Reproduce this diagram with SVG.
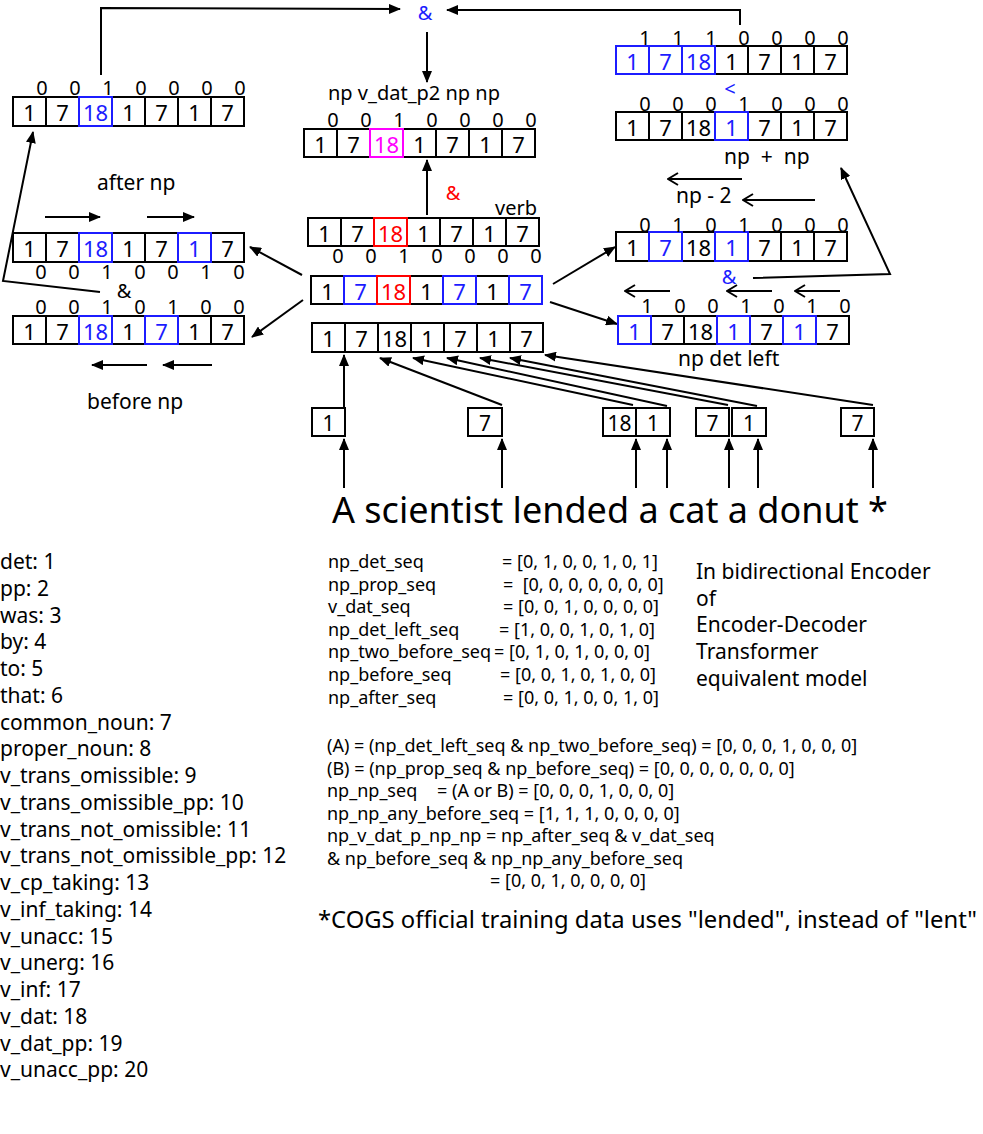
<svg xmlns="http://www.w3.org/2000/svg" width="983" height="1134" viewBox="0 0 983 1134">
<style>
text{font-family:"Noto Sans","Open Sans","DejaVu Sans",sans-serif;fill:#000}
.c{fill:#fff;stroke:#000;stroke-width:2}
.cb{fill:#fff;stroke:#1c1cff;stroke-width:2}
.cr{fill:#fff;stroke:#ff0000;stroke-width:2}
.cm{fill:#fff;stroke:#ff00ff;stroke-width:2}
.v{font-size:22px;text-anchor:middle}
.n{font-size:20px;text-anchor:middle}
.b{fill:#1c1cff}
.r{fill:#ff0000}
.m{fill:#ff00ff}
.lbl{font-size:21px}
.amp{font-size:20px;text-anchor:middle}
.code{font-size:18px}
.ln{fill:none;stroke:#000;stroke-width:2}
</style>
<defs>
<marker id="ah" viewBox="0 0 12 10" refX="11" refY="5" markerWidth="12" markerHeight="10" markerUnits="userSpaceOnUse" orient="auto"><path d="M0,0 L12,5 L0,10 z" fill="#000"/></marker>
<marker id="oa" viewBox="0 0 12 14" refX="11" refY="7" markerWidth="12" markerHeight="14" markerUnits="userSpaceOnUse" orient="auto"><path d="M1,1 L11,7 L1,13" fill="none" stroke="#000" stroke-width="2"/></marker>
</defs>
<rect width="983" height="1134" fill="#fff"/>

<g id="connectors" class="ln">
<path d="M101,75 V8 L400,9" marker-end="url(#ah)"/>
<path d="M740,25 V10 H447" marker-end="url(#ah)"/>
<path d="M427,32 V82" marker-end="url(#ah)"/>
<path d="M427,215 V160" marker-end="url(#ah)"/>
<path d="M302,275 L250,247" marker-end="url(#ah)"/>
<path d="M303,300 L252,337" marker-end="url(#ah)"/>
<path d="M553,284 L615,247" marker-end="url(#ah)"/>
<path d="M550,302 L617,324" marker-end="url(#ah)"/>
<path d="M100,292 L3,281 L33,132" marker-end="url(#ah)"/>
<path d="M753,278 L890,274 L841,168" marker-end="url(#ah)"/>
<path d="M45,217 H100" marker-end="url(#ah)"/>
<path d="M147,217 H194" marker-end="url(#ah)"/>
<path d="M147,365 H92" marker-end="url(#ah)"/>
<path d="M212,365 H163" marker-end="url(#ah)"/>
<path d="M742,179 H668" marker-end="url(#oa)"/>
<path d="M815,200 H743" marker-end="url(#oa)"/>
<path d="M670,291 H625" marker-end="url(#oa)"/>
<path d="M772,291 H727" marker-end="url(#oa)"/>
<path d="M840,291 H795" marker-end="url(#oa)"/>
<path d="M344,488 V439" marker-end="url(#ah)"/>
<path d="M502,488 V439" marker-end="url(#ah)"/>
<path d="M636,488 V439" marker-end="url(#ah)"/>
<path d="M667,488 V439" marker-end="url(#ah)"/>
<path d="M729,488 V439" marker-end="url(#ah)"/>
<path d="M758,488 V439" marker-end="url(#ah)"/>
<path d="M873,488 V439" marker-end="url(#ah)"/>
<path d="M344,408 V355" marker-end="url(#ah)"/>
<path d="M502,405 L380,358" marker-end="url(#ah)"/>
<path d="M633,405 L413,358" marker-end="url(#ah)"/>
<path d="M667,406 L447,358" marker-end="url(#ah)"/>
<path d="M728,405 L480,358" marker-end="url(#ah)"/>
<path d="M757,406 L510,358" marker-end="url(#ah)"/>
<path d="M873,405 L545,355" marker-end="url(#ah)"/>
</g>

<g id="a1" transform="translate(13,97)">
<rect class="c" x="0" width="33" height="29"/><rect class="c" x="33" width="33" height="29"/><rect class="c" x="99" width="33" height="29"/><rect class="c" x="132" width="33" height="29"/><rect class="c" x="165" width="33" height="29"/><rect class="c" x="198" width="33" height="29"/>
<rect class="cb" x="66" width="33" height="29"/>
<text class="v" x="16.5" y="24">1</text><text class="v" x="49.5" y="24">7</text><text class="v b" x="82.5" y="24">18</text><text class="v" x="115.5" y="24">1</text><text class="v" x="148.5" y="24">7</text><text class="v" x="181.5" y="24">1</text><text class="v" x="214.5" y="24">7</text>
<text class="n" x="29 62 95 128 161 194 227" y="-2">0010000</text>
</g>

<g id="a2" transform="translate(304,129)">
<rect class="c" x="0" width="33" height="28"/><rect class="c" x="33" width="33" height="28"/><rect class="c" x="99" width="33" height="28"/><rect class="c" x="132" width="33" height="28"/><rect class="c" x="165" width="33" height="28"/><rect class="c" x="198" width="33" height="28"/>
<rect class="cm" x="66" width="33" height="28"/>
<text class="v" x="16.5" y="23.5">1</text><text class="v" x="49.5" y="23.5">7</text><text class="v m" x="82.5" y="23.5">18</text><text class="v" x="115.5" y="23.5">1</text><text class="v" x="148.5" y="23.5">7</text><text class="v" x="181.5" y="23.5">1</text><text class="v" x="214.5" y="23.5">7</text>
<text class="n" x="29 62 95 128 161 194 227" y="-2">0010000</text>
</g>

<g id="a3" transform="translate(308,218)">
<rect class="c" x="0" width="33" height="28"/><rect class="c" x="33" width="33" height="28"/><rect class="c" x="99" width="33" height="28"/><rect class="c" x="132" width="33" height="28"/><rect class="c" x="165" width="33" height="28"/><rect class="c" x="198" width="33" height="28"/>
<rect class="cr" x="66" width="33" height="28"/>
<text class="v" x="16.5" y="23.5">1</text><text class="v" x="49.5" y="23.5">7</text><text class="v r" x="82.5" y="23.5">18</text><text class="v" x="115.5" y="23.5">1</text><text class="v" x="148.5" y="23.5">7</text><text class="v" x="181.5" y="23.5">1</text><text class="v" x="214.5" y="23.5">7</text>
<text class="n" x="30 63 96 129 162 195 228" y="45">0010000</text>
</g>

<g id="a4" transform="translate(311,276)">
<rect class="c" x="0" width="33" height="28"/><rect class="c" x="99" width="33" height="28"/><rect class="c" x="165" width="33" height="28"/>
<rect class="cb" x="33" width="33" height="28"/><rect class="cr" x="66" width="33" height="28"/><rect class="cb" x="132" width="33" height="28"/><rect class="cb" x="198" width="33" height="28"/>
<text class="v" x="16.5" y="23.5">1</text><text class="v b" x="49.5" y="23.5">7</text><text class="v r" x="82.5" y="23.5">18</text><text class="v" x="115.5" y="23.5">1</text><text class="v b" x="148.5" y="23.5">7</text><text class="v" x="181.5" y="23.5">1</text><text class="v b" x="214.5" y="23.5">7</text>
</g>

<g id="a5" transform="translate(312,323)">
<rect class="c" x="0" width="33" height="29"/><rect class="c" x="33" width="33" height="29"/><rect class="c" x="66" width="33" height="29"/><rect class="c" x="99" width="33" height="29"/><rect class="c" x="132" width="33" height="29"/><rect class="c" x="165" width="33" height="29"/><rect class="c" x="198" width="33" height="29"/>
<text class="v" x="16.5" y="24">1</text><text class="v" x="49.5" y="24">7</text><text class="v" x="82.5" y="24">18</text><text class="v" x="115.5" y="24">1</text><text class="v" x="148.5" y="24">7</text><text class="v" x="181.5" y="24">1</text><text class="v" x="214.5" y="24">7</text>
</g>

<g id="l1" transform="translate(13,233)">
<rect class="c" x="0" width="33" height="29"/><rect class="c" x="33" width="33" height="29"/><rect class="c" x="99" width="33" height="29"/><rect class="c" x="132" width="33" height="29"/><rect class="c" x="198" width="33" height="29"/>
<rect class="cb" x="66" width="33" height="29"/><rect class="cb" x="165" width="33" height="29"/>
<text class="v" x="16.5" y="24">1</text><text class="v" x="49.5" y="24">7</text><text class="v b" x="82.5" y="24">18</text><text class="v" x="115.5" y="24">1</text><text class="v" x="148.5" y="24">7</text><text class="v b" x="181.5" y="24">1</text><text class="v" x="214.5" y="24">7</text>
<text class="n" x="28 61 94 127 160 193 226" y="46">0010010</text>
</g>

<g id="l2" transform="translate(13,316)">
<rect class="c" x="0" width="33" height="28"/><rect class="c" x="33" width="33" height="28"/><rect class="c" x="99" width="33" height="28"/><rect class="c" x="165" width="33" height="28"/><rect class="c" x="198" width="33" height="28"/>
<rect class="cb" x="66" width="33" height="28"/><rect class="cb" x="132" width="33" height="28"/>
<text class="v" x="16.5" y="23.5">1</text><text class="v" x="49.5" y="23.5">7</text><text class="v b" x="82.5" y="23.5">18</text><text class="v" x="115.5" y="23.5">1</text><text class="v b" x="148.5" y="23.5">7</text><text class="v" x="181.5" y="23.5">1</text><text class="v" x="214.5" y="23.5">7</text>
<text class="n" x="28 61 94 127 160 193 226" y="-2">0010100</text>
</g>

<g id="r1" transform="translate(616,46)">
<rect class="c" x="99" width="33" height="28"/><rect class="c" x="132" width="33" height="28"/><rect class="c" x="165" width="33" height="28"/><rect class="c" x="198" width="33" height="28"/>
<rect class="cb" x="0" width="33" height="28"/><rect class="cb" x="33" width="33" height="28"/><rect class="cb" x="66" width="33" height="28"/>
<text class="v b" x="16.5" y="23.5">1</text><text class="v b" x="49.5" y="23.5">7</text><text class="v b" x="82.5" y="23.5">18</text><text class="v" x="115.5" y="23.5">1</text><text class="v" x="148.5" y="23.5">7</text><text class="v" x="181.5" y="23.5">1</text><text class="v" x="214.5" y="23.5">7</text>
<text class="n" x="29 62 95 128 161 194 227" y="-1">1110000</text>
</g>

<g id="r2" transform="translate(616,112)">
<rect class="c" x="0" width="33" height="28"/><rect class="c" x="33" width="33" height="28"/><rect class="c" x="66" width="33" height="28"/><rect class="c" x="132" width="33" height="28"/><rect class="c" x="165" width="33" height="28"/><rect class="c" x="198" width="33" height="28"/>
<rect class="cb" x="99" width="33" height="28"/>
<text class="v" x="16.5" y="23.5">1</text><text class="v" x="49.5" y="23.5">7</text><text class="v" x="82.5" y="23.5">18</text><text class="v b" x="115.5" y="23.5">1</text><text class="v" x="148.5" y="23.5">7</text><text class="v" x="181.5" y="23.5">1</text><text class="v" x="214.5" y="23.5">7</text>
<text class="n" x="29 62 95 128 161 194 227" y="-1">0001000</text>
</g>

<g id="r3" transform="translate(616,232)">
<rect class="c" x="0" width="33" height="29"/><rect class="c" x="66" width="33" height="29"/><rect class="c" x="132" width="33" height="29"/><rect class="c" x="165" width="33" height="29"/><rect class="c" x="198" width="33" height="29"/>
<rect class="cb" x="33" width="33" height="29"/><rect class="cb" x="99" width="33" height="29"/>
<text class="v" x="16.5" y="24">1</text><text class="v b" x="49.5" y="24">7</text><text class="v" x="82.5" y="24">18</text><text class="v b" x="115.5" y="24">1</text><text class="v" x="148.5" y="24">7</text><text class="v" x="181.5" y="24">1</text><text class="v" x="214.5" y="24">7</text>
<text class="n" x="29 62 95 128 161 194 227" y="0">0101000</text>
</g>

<g id="r4" transform="translate(618,316)">
<rect class="c" x="33" width="33" height="28"/><rect class="c" x="66" width="33" height="28"/><rect class="c" x="132" width="33" height="28"/><rect class="c" x="198" width="33" height="28"/>
<rect class="cb" x="0" width="33" height="28"/><rect class="cb" x="99" width="33" height="28"/><rect class="cb" x="165" width="33" height="28"/>
<text class="v b" x="16.5" y="23.5">1</text><text class="v" x="49.5" y="23.5">7</text><text class="v" x="82.5" y="23.5">18</text><text class="v b" x="115.5" y="23.5">1</text><text class="v" x="148.5" y="23.5">7</text><text class="v b" x="181.5" y="23.5">1</text><text class="v" x="214.5" y="23.5">7</text>
<text class="n" x="29 62 95 128 161 194 227" y="-3">1001010</text>
</g>

<g id="words">
<rect class="c" x="312" y="408" width="33" height="28"/><text class="v" x="328.5" y="431" style="font-size:21px">1</text>
<rect class="c" x="468" y="408" width="34" height="28"/><text class="v" x="485" y="431" style="font-size:21px">7</text>
<rect class="c" x="603" y="408" width="33" height="28"/><text class="v" x="619.5" y="431" style="font-size:21px">18</text>
<rect class="c" x="636" y="408" width="34" height="28"/><text class="v" x="653" y="431" style="font-size:21px">1</text>
<rect class="c" x="696" y="408" width="33" height="28"/><text class="v" x="712.5" y="431" style="font-size:21px">7</text>
<rect class="c" x="732" y="408" width="34" height="28"/><text class="v" x="749" y="431" style="font-size:21px">1</text>
<rect class="c" x="841" y="408" width="33" height="28"/><text class="v" x="857.5" y="431" style="font-size:21px">7</text>
</g>

<g id="labels">
<text class="amp b" x="425" y="19.5">&amp;</text>
<text class="amp r" x="453" y="200">&amp;</text>
<text class="amp" x="124" y="298">&amp;</text>
<text class="amp b" x="729" y="284">&amp;</text>
<text class="amp b" x="730" y="96">&lt;</text>
<text style="font-size:20px" x="328" y="100">np v_dat_p2 np np</text>
<text style="font-size:20px" x="495" y="215">verb</text>
<text class="lbl" x="97" y="190">after np</text>
<text class="lbl" x="87" y="409">before np</text>
<text class="lbl" x="724" y="164" xml:space="preserve">np  +  np</text>
<text class="lbl" x="676" y="203">np - 2</text>
<text class="lbl" x="678" y="366">np det left</text>
<text style="font-size:36px" x="332" y="523">A scientist lended a cat a donut *</text>
</g>

<g id="legend" class="lbl">
<text x="0" y="569">det: 1<tspan x="0" dy="26.75">pp: 2</tspan><tspan x="0" dy="26.75">was: 3</tspan><tspan x="0" dy="26.75">by: 4</tspan><tspan x="0" dy="26.75">to: 5</tspan><tspan x="0" dy="26.75">that: 6</tspan><tspan x="0" dy="26.75">common_noun: 7</tspan><tspan x="0" dy="26.75">proper_noun: 8</tspan><tspan x="0" dy="26.75">v_trans_omissible: 9</tspan><tspan x="0" dy="26.75">v_trans_omissible_pp: 10</tspan><tspan x="0" dy="26.75">v_trans_not_omissible: 11</tspan><tspan x="0" dy="26.75">v_trans_not_omissible_pp: 12</tspan><tspan x="0" dy="26.75">v_cp_taking: 13</tspan><tspan x="0" dy="26.75">v_inf_taking: 14</tspan><tspan x="0" dy="26.75">v_unacc: 15</tspan><tspan x="0" dy="26.75">v_unerg: 16</tspan><tspan x="0" dy="26.75">v_inf: 17</tspan><tspan x="0" dy="26.75">v_dat: 18</tspan><tspan x="0" dy="26.75">v_dat_pp: 19</tspan><tspan x="0" dy="26.75">v_unacc_pp: 20</tspan></text>
</g>

<g id="note" class="lbl">
<text x="696" y="579">In bidirectional Encoder<tspan x="696" dy="26.7">of</tspan><tspan x="696" dy="26.7">Encoder-Decoder</tspan><tspan x="696" dy="26.7">Transformer</tspan><tspan x="696" dy="26.7">equivalent model</tspan></text>
</g>

<g id="seqs" class="code">
<text x="328" y="568">np_det_seq<tspan x="502">= [0, 1, 0, 0, 1, 0, 1]</tspan></text>
<text x="328" y="590.6" xml:space="preserve">np_prop_seq<tspan x="503">=  [0, 0, 0, 0, 0, 0, 0]</tspan></text>
<text x="328" y="613.2">v_dat_seq<tspan x="503">= [0, 0, 1, 0, 0, 0, 0]</tspan></text>
<text x="328" y="635.8">np_det_left_seq<tspan x="499">= [1, 0, 0, 1, 0, 1, 0]</tspan></text>
<text x="328" y="658.4">np_two_before_seq<tspan x="494">= [0, 1, 0, 1, 0, 0, 0]</tspan></text>
<text x="328" y="681">np_before_seq<tspan x="500">= [0, 0, 1, 0, 1, 0, 0]</tspan></text>
<text x="328" y="703.6">np_after_seq<tspan x="503">= [0, 0, 1, 0, 0, 1, 0]</tspan></text>
</g>

<g id="formulas" class="code">
<text x="327" y="752">(A) = (np_det_left_seq &amp; np_two_before_seq) = [0, 0, 0, 1, 0, 0, 0]</text>
<text x="327" y="774.5">(B) = (np_prop_seq &amp; np_before_seq) = [0, 0, 0, 0, 0, 0, 0]</text>
<text x="327" y="797">np_np_seq<tspan x="437">= (A or B) = [0, 0, 0, 1, 0, 0, 0]</tspan></text>
<text x="327" y="819.5">np_np_any_before_seq = [1, 1, 1, 0, 0, 0, 0]</text>
<text x="327" y="842">np_v_dat_p_np_np = np_after_seq &amp; v_dat_seq</text>
<text x="327" y="864.5">&amp; np_before_seq &amp; np_np_any_before_seq</text>
<text x="490" y="887">= [0, 0, 1, 0, 0, 0, 0]</text>
<text x="318" y="928" style="font-size:23.8px">*COGS official training data uses "lended", instead of "lent"</text>
</g>
</svg>
